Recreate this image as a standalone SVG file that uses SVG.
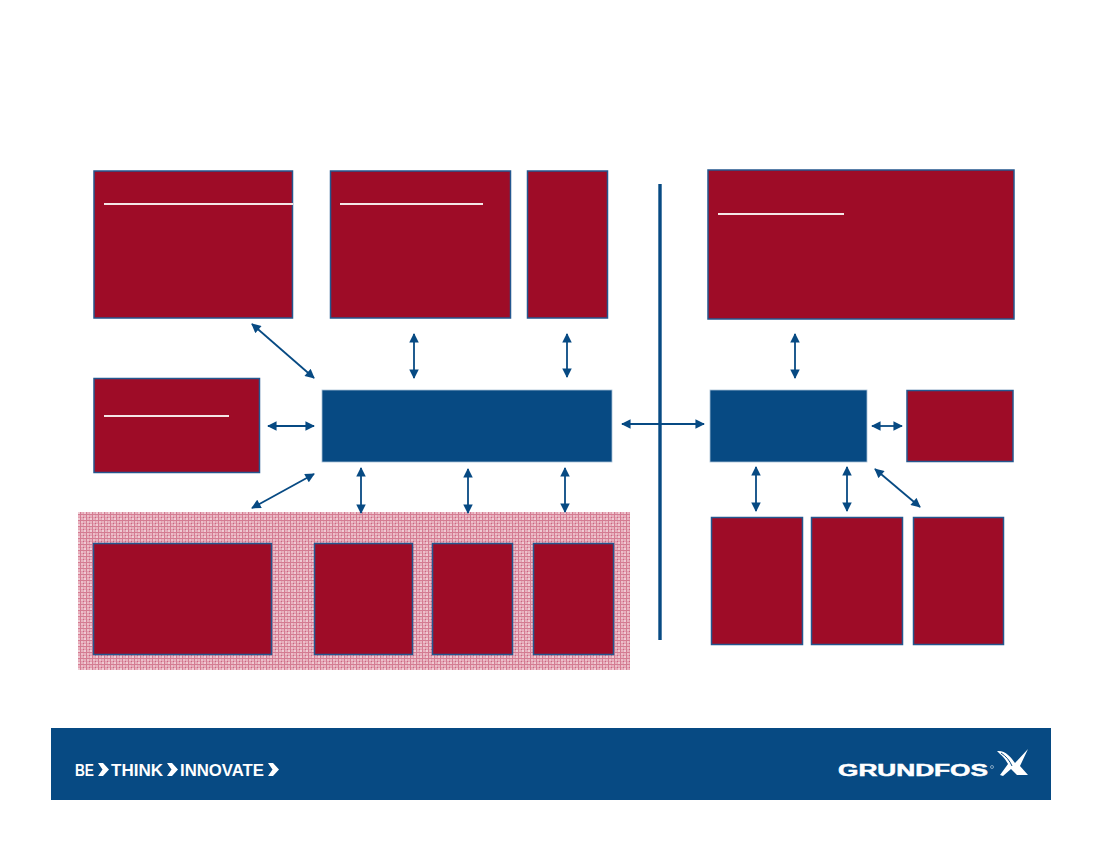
<svg xmlns="http://www.w3.org/2000/svg" width="1100" height="850" viewBox="0 0 1100 850">
<style>
.r{fill:#9e0c27;stroke:#24578f;stroke-width:1.5}
.b{fill:#074a83;stroke:#a9c0d6;stroke-width:.8}
.u{stroke:#f4e6e6;stroke-width:2;fill:none}
.c{stroke:#074a83;stroke-width:1.8;fill:none;marker-start:url(#a);marker-end:url(#a)}
.w{fill:#fff;font-family:"Liberation Sans",Arial,sans-serif;font-weight:700}
</style>
<defs>
<marker id="a" viewBox="0 0 10 10" refX="9" refY="5" markerUnits="userSpaceOnUse" markerWidth="10.5" markerHeight="9.5" orient="auto-start-reverse"><path d="M0 0L10 5L0 10Z" fill="#074a83"/></marker>
<pattern id="p" width="6" height="6" patternUnits="userSpaceOnUse" x="78" y="512">
<rect width="6" height="6" fill="#e3a0b1"/>
<rect x="0" y="0" width="2" height="2" fill="#efccd4"/>
<rect x="3" y="0" width="2" height="2" fill="#e8b2bf"/>
<rect x="0" y="3" width="2" height="2" fill="#e8b2bf"/>
<rect x="3" y="3" width="2" height="2" fill="#ecc0ca"/>
<rect x="2" width="1" height="6" fill="#d47c92"/><rect y="2" width="6" height="1" fill="#d47c92"/>
<rect x="5" y="5" width="1" height="1" fill="#c96580"/>
</pattern>
</defs>
<rect width="1100" height="850" fill="#fff"/>
<rect id="hatch" x="78" y="512" width="552" height="158" fill="url(#p)"/>

<g id="n1"><rect class="r" x="94" y="171" width="198.500" height="147"/><path class="u" d="M104 204H293"/></g>
<g id="n2"><rect class="r" x="330.500" y="171" width="180" height="147"/><path class="u" d="M340 204H483"/></g>
<g id="n3"><rect class="r" x="527.500" y="171" width="80" height="147"/></g>
<g id="n4"><rect class="r" x="708" y="170" width="306" height="149"/><path class="u" d="M718 214H844"/></g>
<g id="n5"><rect class="r" x="94" y="378.500" width="165.500" height="94"/><path class="u" d="M104 416H229"/></g>
<g id="n6"><rect class="b" x="322" y="390" width="290" height="72"/></g>
<g id="n7"><rect class="b" x="710" y="390" width="157" height="72"/></g>
<g id="n8"><rect class="r" x="907" y="390.500" width="106" height="71"/></g>
<g id="n9"><rect class="r" x="93.500" y="543.500" width="178" height="111"/></g>
<g id="n10"><rect class="r" x="314.500" y="543.500" width="98" height="111"/></g>
<g id="n11"><rect class="r" x="432.500" y="543.500" width="80" height="111"/></g>
<g id="n12"><rect class="r" x="533.500" y="543.500" width="80" height="111"/></g>
<g id="n13"><rect class="r" x="711.500" y="517.500" width="91" height="127"/></g>
<g id="n14"><rect class="r" x="811.500" y="517.500" width="91" height="127"/></g>
<g id="n15"><rect class="r" x="913.500" y="517.500" width="90" height="127"/></g>

<g id="connectors">
<path d="M660 184V640" stroke="#074a83" stroke-width="3.4" fill="none"/>
<path class="c" d="M252 324L314 378"/>
<path class="c" d="M414 334V378"/>
<path class="c" d="M567 334V377"/>
<path class="c" d="M795 334V378"/>
<path class="c" d="M268 426H314"/>
<path class="c" d="M622 424H704"/>
<path class="c" d="M872 426H902"/>
<path class="c" d="M252 508L314 474"/>
<path class="c" d="M361 468V513"/>
<path class="c" d="M468 469V513"/>
<path class="c" d="M565 468V512"/>
<path class="c" d="M756 467V511"/>
<path class="c" d="M847 467V511"/>
<path class="c" d="M875 469L920 507"/>
</g>

<g id="footer">
<rect x="51" y="728" width="1000" height="72" fill="#074a83"/>
<text class="w" x="75" y="775.500" font-size="16" textLength="19" lengthAdjust="spacingAndGlyphs">BE</text>
<path d="M98 763h5l6 6.500-6 6.500h-5l4.500-6.500zM167 763h5l6 6.500-6 6.500h-5l4.500-6.500zM268 763h5l6 6.500-6 6.500h-5l4.500-6.500z" fill="#fff"/>
<text class="w" x="111" y="775.500" font-size="16" textLength="52" lengthAdjust="spacingAndGlyphs">THINK</text>
<text class="w" x="180" y="775.500" font-size="16" textLength="84" lengthAdjust="spacingAndGlyphs">INNOVATE</text>
<text class="w" x="838" y="776" font-size="16" stroke="#fff" stroke-width=".5" textLength="150" lengthAdjust="spacingAndGlyphs">GRUNDFOS</text>
<circle cx="992" cy="767" r="1.500" fill="none" stroke="#cfdbe6" stroke-width=".6"/>
<path d="M997 751C1005 750 1011 757 1015 763L1028 749L1020 766L1028 775L1017 775L1011 769L1003 776L1000 775L1008 764C1005 758 1001 755 997 751Z" fill="#fff"/>
<path d="M1001 753C1006 756 1010 761 1012 766" fill="none" stroke="#074a83" stroke-width="1"/>
</g>
</svg>
